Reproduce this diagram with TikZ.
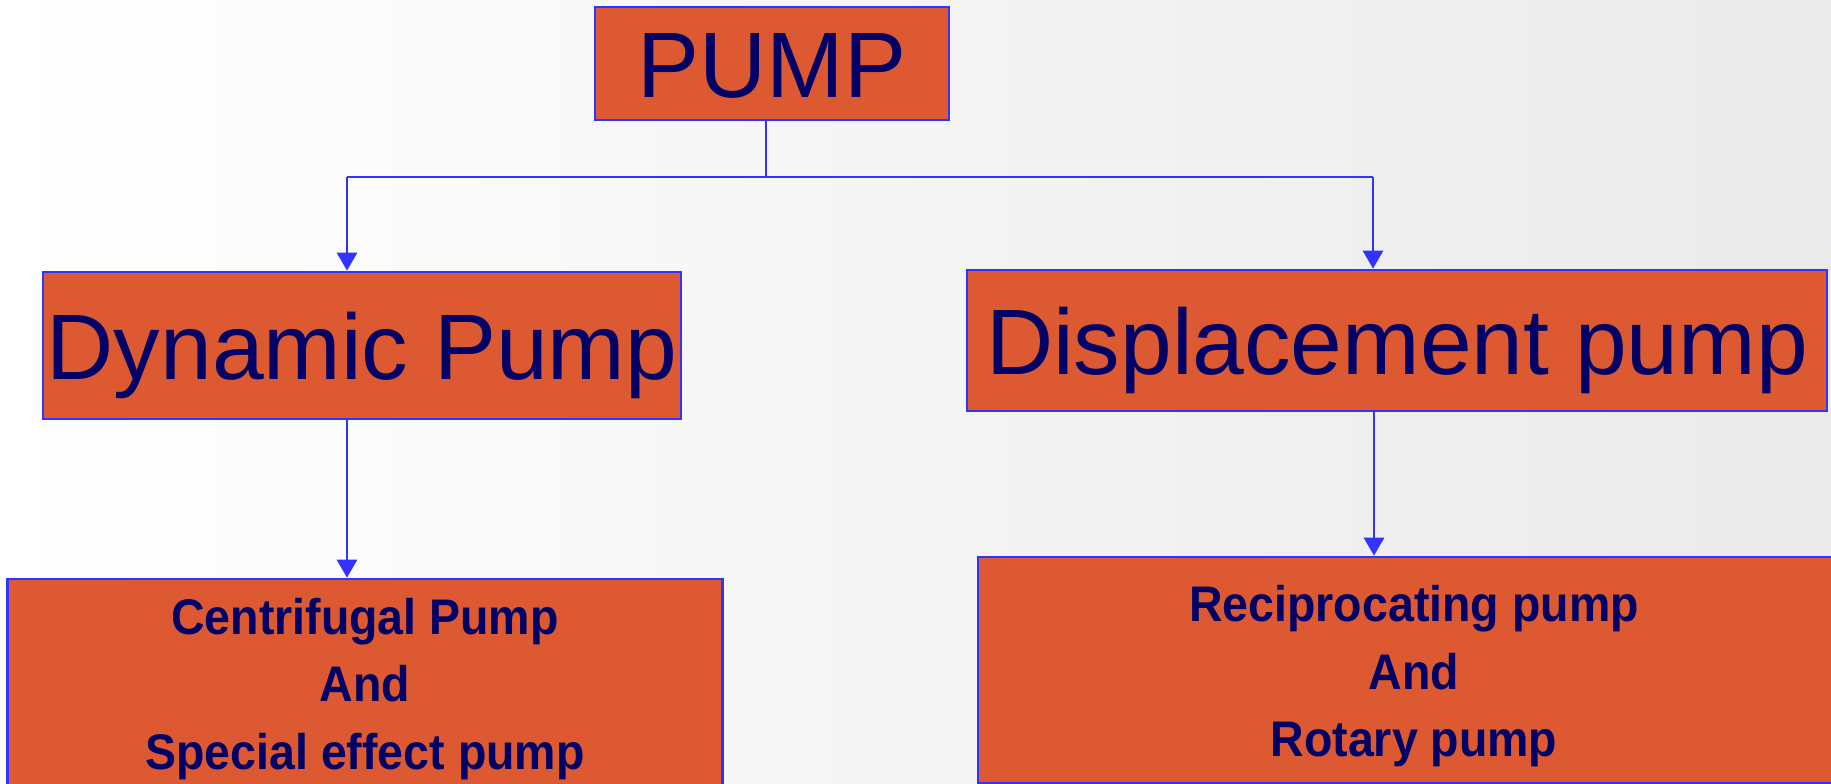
\documentclass[tikz,border=0pt]{standalone}
\usepackage{fontspec}
\setmainfont{Liberation Sans}
\newfontfamily\leaffont[FakeStretch=0.93]{Liberation Sans}
\usepackage{xcolor}
\usepackage{tikz}
\usetikzlibrary{arrows.meta}

\definecolor{boxOrange}{HTML}{DD5931}
\definecolor{edgeBlue}{HTML}{3333FF}
\definecolor{labelNavy}{HTML}{000066}
\definecolor{bgGray}{HTML}{EAEAEA}

\begin{document}
\begin{tikzpicture}[
    x=1pt, y=-1pt,
    block/.style={rectangle, draw=edgeBlue, fill=boxOrange, line width=2.6pt, inner sep=0pt, text=labelNavy},
    title/.style={block, font=\fontsize{93}{112}\selectfont, text height=67pt, text depth=0pt},
    leaf/.style={block, font=\leaffont\fontsize{50}{67.5}\selectfont\bfseries, text height=0pt},
    link/.style={draw=edgeBlue, line width=2.8pt},
    arrow/.style={link, -{Triangle[width=20pt, length=18pt]}}
]
    \useasboundingbox (0,0) rectangle (1831,784);
    \shade[left color=white, right color=bgGray] (0,0) rectangle (1831,784);

    % Root
    \node[title, minimum width=354pt, minimum height=113pt] (pump) at (772,63.5) {PUMP};

    % Two families
    \node[title, minimum width=638pt, minimum height=147pt] (dyn) at (362,345.5) {Dynamic Pump};
    \node[title, minimum width=860pt, minimum height=141pt] (disp) at (1397,340.5) {Displacement pump};

    % Kinds of each family
    \node[leaf, minimum width=715pt, minimum height=219pt, text depth=109pt] (cent) at (365,688.5)
        {\begin{tabular}[t]{c}Centrifugal Pump\\And\\Special effect pump\end{tabular}};
    \node[leaf, minimum width=872pt, minimum height=226pt, text depth=96.6pt] (recip) at (1414,670)
        {\begin{tabular}[t]{c}Reciprocating pump\\And\\Rotary pump\end{tabular}};

    % Connections
    \coordinate (fork) at (766,177);
    \coordinate (forkL) at (347,177);
    \coordinate (forkR) at (1373,177);
    \draw[link] (pump.south -| fork) -- (fork);
    \draw[link] (forkL) -- (forkR);
    \draw[arrow] (forkL) -- (forkL |- dyn.north);
    \draw[arrow] (forkR) -- (forkR |- disp.north);
    \draw[arrow] ([xshift=-15pt]dyn.south) -- ([xshift=-15pt]dyn.south |- cent.north);
    \draw[arrow] ([xshift=-23pt]disp.south) -- ([xshift=-23pt]disp.south |- recip.north);
\end{tikzpicture}
\end{document}
